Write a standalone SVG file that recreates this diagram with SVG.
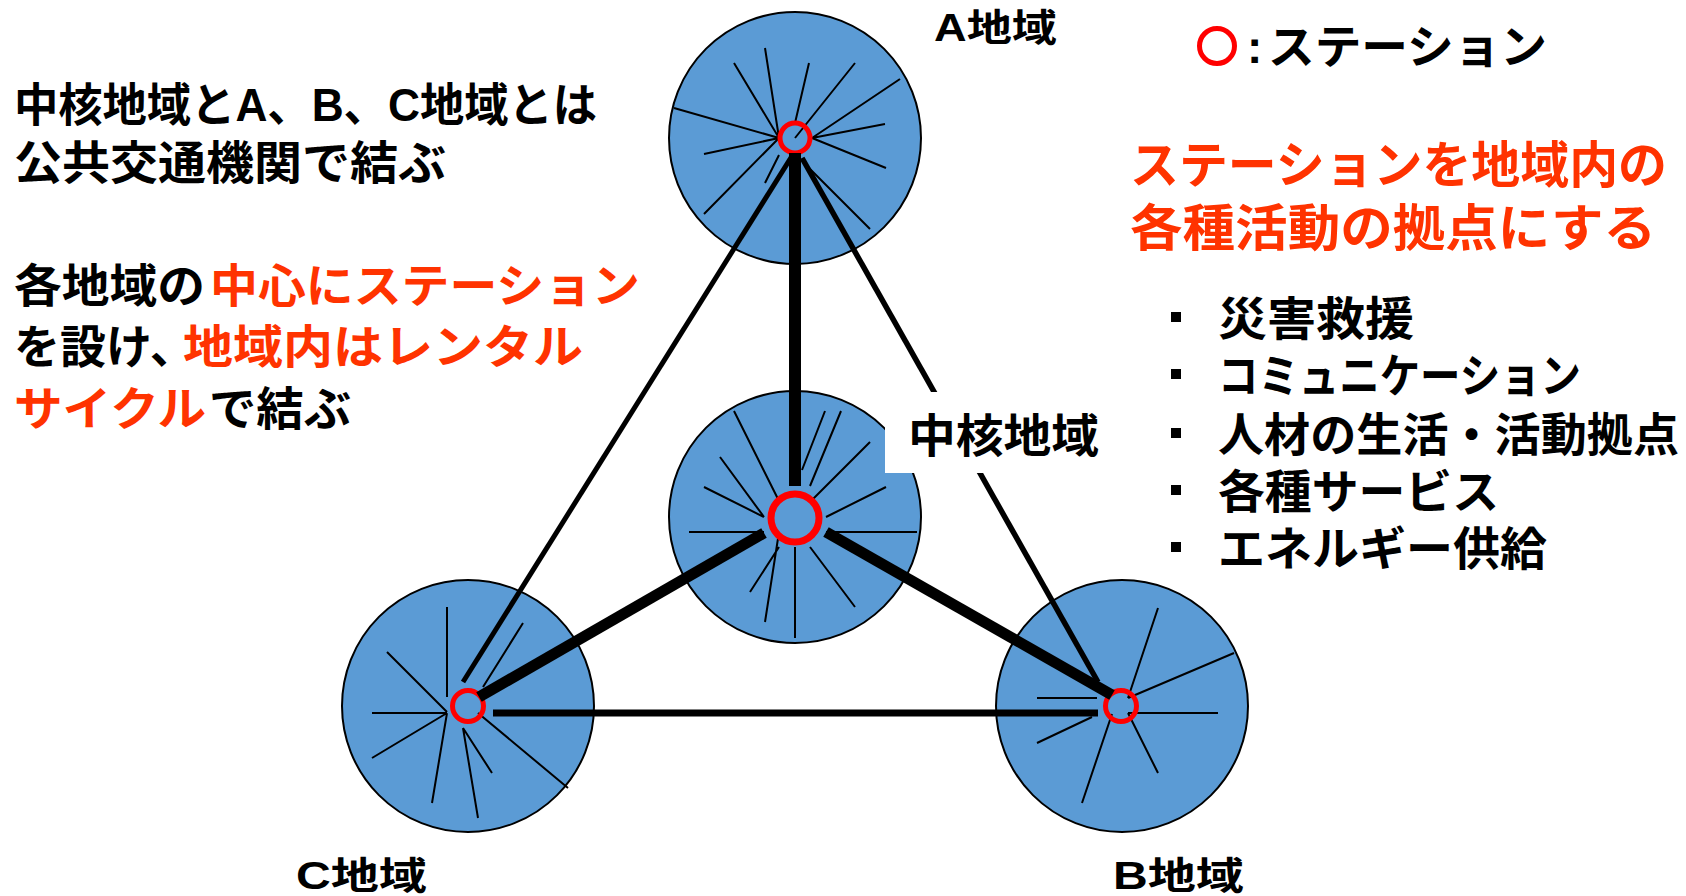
<svg xmlns="http://www.w3.org/2000/svg" width="1686" height="896" viewBox="0 0 1686 896">
<style>
.area{fill:#5B9BD5;stroke:#000;stroke-width:2}
.spoke{fill:none;stroke:#000;stroke-width:2}
.st{fill:none;stroke:#FF0000}
.t{font-family:"Liberation Sans","Noto Sans CJK JP",sans-serif;font-weight:bold;fill:#000}
.r{fill:#FF3300}
</style>
<rect width="1686" height="896" fill="#fff"/>
<g id="area-A">
<circle class="area" cx="795" cy="138" r="126"/>
<path class="spoke" d="M765,48L779,138M734,63L779,138M809,63L795,123M855,63L795,138M900,79L812,138M885,124L812,138M886,168L812,138M870,229L803,162M674,108L779,138M704,154L779,138M704,214L779,138M765,183L779,155"/>
<circle class="st" cx="795" cy="138" r="15" stroke-width="5"/>
</g>
<g id="area-core">
<circle class="area" cx="795" cy="517" r="126"/>
<path class="spoke" d="M734,411L779,501M720,457L764,517M704,487L764,517M689,532L764,532M825,411L802,470M841,411L810,486M870,442L810,502M886,487L826,517M917,532L826,532M855,607L810,547M795,638L795,547M765,622L779,532M750,592L779,547"/>
<circle class="st" cx="795" cy="518" r="24" stroke-width="7"/>
</g>
<g id="area-C">
<circle class="area" cx="468" cy="706" r="126"/>
<path class="spoke" d="M447,607L447,697M387,652L447,712M372,713L447,713M372,758L447,713M432,803L447,713M478,818L463,728M492,773L463,728M568,788L478,713M523,623L483,687"/>
<circle class="st" cx="468" cy="706" r="15.5" stroke-width="5"/>
</g>
<g id="area-B">
<circle class="area" cx="1122" cy="706" r="126"/>
<path class="spoke" d="M1158,608L1128,698M1234,653L1128,698M1158,773L1128,713M1082,803L1112,714M1037,743L1092,717M1037,698L1097,698"/>
<path class="spoke" d="M1218,713L1128,713" stroke-width="3.3"/>
<circle class="st" cx="1121" cy="706" r="15.5" stroke-width="5"/>
</g>
<g id="connectors" stroke="#000" fill="none" stroke-linecap="butt">
<line x1="795" y1="153" x2="795" y2="486" stroke-width="12"/>
<line x1="764" y1="533" x2="479" y2="697" stroke-width="11"/>
<line x1="826" y1="532" x2="1112" y2="695" stroke-width="11"/>
<line x1="792" y1="156" x2="463" y2="682" stroke-width="5"/>
<line x1="802" y1="158" x2="1098" y2="682" stroke-width="5.5"/>
<line x1="493" y1="713" x2="1098" y2="713" stroke-width="7"/>
</g>
<g id="label-core">
<rect x="885" y="392" width="225" height="81" fill="#fff"/>
<text class="t" x="908" y="452" font-size="46" textLength="191" lengthAdjust="spacingAndGlyphs">中核地域</text>
</g>
<g id="label-A"><text class="t" x="934" y="41" font-size="38" textLength="123" lengthAdjust="spacingAndGlyphs">A地域</text></g>
<g id="label-C"><text class="t" x="296" y="889" font-size="38" textLength="131" lengthAdjust="spacingAndGlyphs">C地域</text></g>
<g id="label-B"><text class="t" x="1113" y="889" font-size="38" textLength="131" lengthAdjust="spacingAndGlyphs">B地域</text></g>
<g id="legend">
<circle cx="1217" cy="46" r="17.5" fill="none" stroke="#FF0000" stroke-width="5"/>
<text class="t" x="1247" y="63" font-size="46">:</text>
<text class="t" x="1268" y="63" font-size="46" textLength="279" lengthAdjust="spacingAndGlyphs">ステーション</text>
</g>
<g id="left-text" font-size="46">
<text class="t" x="14" y="121" textLength="583" lengthAdjust="spacingAndGlyphs">中核地域とA、B、C地域とは</text>
<text class="t" x="14" y="179" textLength="432" lengthAdjust="spacingAndGlyphs">公共交通機関で結ぶ</text>
<text class="t" x="14" y="302" textLength="191" lengthAdjust="spacingAndGlyphs">各地域の</text>
<text class="t r" x="210" y="302" textLength="430" lengthAdjust="spacingAndGlyphs">中心にステーション</text>
<text class="t" x="14" y="363">を設け、</text>
<text class="t r" x="183" y="363" textLength="400" lengthAdjust="spacingAndGlyphs">地域内はレンタル</text>
<text class="t r" x="14" y="425" textLength="192" lengthAdjust="spacingAndGlyphs">サイクル</text>
<text class="t" x="209" y="425" textLength="142" lengthAdjust="spacingAndGlyphs">で結ぶ</text>
</g>
<g id="right-heading" font-size="50">
<text class="t r" x="1130" y="183" textLength="537" lengthAdjust="spacingAndGlyphs">ステーションを地域内の</text>
<text class="t r" x="1130" y="246" textLength="526" lengthAdjust="spacingAndGlyphs">各種活動の拠点にする</text>
</g>
<g id="right-list" font-size="46">
<rect x="1171" y="312" width="10" height="10"/>
<rect x="1171" y="369" width="10" height="10"/>
<rect x="1171" y="428" width="10" height="10"/>
<rect x="1171" y="485" width="10" height="10"/>
<rect x="1171" y="542" width="10" height="10"/>
<text class="t" x="1218" y="335" textLength="196" lengthAdjust="spacingAndGlyphs">災害救援</text>
<text class="t" x="1218" y="392" textLength="363" lengthAdjust="spacingAndGlyphs">コミュニケーション</text>
<text class="t" x="1218" y="451" textLength="461" lengthAdjust="spacingAndGlyphs">人材の生活・活動拠点</text>
<text class="t" x="1218" y="508" textLength="281" lengthAdjust="spacingAndGlyphs">各種サービス</text>
<text class="t" x="1218" y="565" textLength="329" lengthAdjust="spacingAndGlyphs">エネルギー供給</text>
</g>
</svg>
